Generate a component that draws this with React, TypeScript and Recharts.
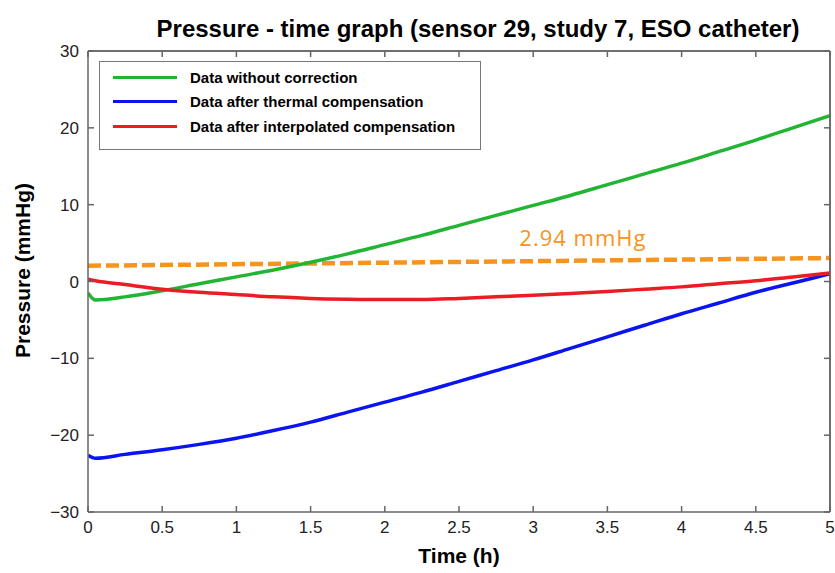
import { LineChart, Line, XAxis, YAxis, Legend, ReferenceDot, ReferenceLine } from 'recharts';

const TIME = [0, 0.05, 0.25, 0.5, 0.75, 1, 1.25, 1.5, 1.75, 2, 2.25, 2.5, 2.75, 3, 3.25, 3.5, 3.75, 4, 4.25, 4.5, 4.75, 5];
const RAW = [-1.5, -2.4, -2.0, -1.2, -0.3, 0.6, 1.5, 2.5, 3.6, 4.8, 6.0, 7.3, 8.6, 9.9, 11.2, 12.6, 14.0, 15.4, 16.9, 18.4, 20.0, 21.6];
const THERMAL = [-22.6, -23.0, -22.5, -21.9, -21.2, -20.4, -19.4, -18.3, -17.0, -15.7, -14.4, -13.0, -11.6, -10.2, -8.7, -7.2, -5.7, -4.2, -2.8, -1.4, -0.2, 1.0];
const INTERP = [0.3, 0.1, -0.4, -1.0, -1.4, -1.7, -2.0, -2.2, -2.3, -2.35, -2.35, -2.2, -2.0, -1.8, -1.55, -1.3, -1.0, -0.7, -0.3, 0.1, 0.6, 1.1];
// dashed reference: start / end of the run
const REF_TIME = [0, 5];
const REF_VALUE = [2.05, 3.05];

const SERIES_NAMES = ['Data without correction', 'Data after thermal compensation', 'Data after interpolated compensation'];
const X_TICKS = [0, 0.5, 1, 1.5, 2, 2.5, 3, 3.5, 4, 4.5, 5];
const Y_TICKS = [-30, -20, -10, 0, 10, 20, 30];

const data = TIME.map((t, i) => ({ t, raw: RAW[i], thermal: THERMAL[i], interp: INTERP[i] }));
const refData = REF_TIME.map((t, i) => ({ t, ref: REF_VALUE[i] }));

const tickFont = { fontFamily: 'Liberation Sans, Arial, sans-serif', fontSize: 17, fill: '#222' };
const labelFont = { fontFamily: 'Liberation Sans, Arial, sans-serif', fontSize: 21, fontWeight: 'bold', fill: '#000' };
const axisColor = '#666';
const noLabel = () => <g />;

function LegendBox({ payload }: any) {
  const items = SERIES_NAMES.map((n) => (payload || []).find((p: any) => p.value === n)).filter(Boolean);
  return (
    <div
      style={{
        border: '1.5px solid #777',
        background: '#fff',
        width: 382,
        height: 89,
        boxSizing: 'border-box',
        padding: '3px 0 0 13px',
        fontFamily: 'Liberation Sans, Arial, sans-serif',
        fontWeight: 'bold',
        fontSize: 15,
        textAlign: 'left',
      }}
    >
      {items.map((p: any) => (
        <div key={p.value} style={{ display: 'flex', alignItems: 'center', height: 24.5 }}>
          <span style={{ display: 'inline-block', width: 64, height: 3, background: p.color, marginRight: 13 }} />
          <span>{p.value}</span>
        </div>
      ))}
    </div>
  );
}

export default function App() {
  return (
    <div style={{ position: 'absolute', left: 0, top: 0, width: 835, height: 573, background: '#fff' }}>
      <div
        style={{
          position: 'absolute',
          left: 120,
          width: 716,
          top: 15,
          textAlign: 'center',
          fontFamily: 'Liberation Sans, Arial, sans-serif',
          fontWeight: 'bold',
          fontSize: 24,
          color: '#000',
        }}
      >
        Pressure - time graph (sensor 29, study 7, ESO catheter)
      </div>
      <LineChart width={835} height={573} data={data} margin={{ top: 50, right: 4, left: 28, bottom: 6 }}>
        {/* negative tickSize points the tick marks into the plot */}
        <XAxis
          xAxisId="b"
          dataKey="t"
          type="number"
          domain={[0, 5]}
          ticks={X_TICKS}
          height={55}
          tickSize={-6}
          tickMargin={15}
          tick={tickFont}
          stroke={axisColor}
          strokeWidth={1.5}
          allowDataOverflow
          label={{ value: 'Time (h)', position: 'insideBottom', offset: 4, style: labelFont }}
        />
        <XAxis
          xAxisId="t"
          orientation="top"
          dataKey="t"
          type="number"
          domain={[0, 5]}
          ticks={X_TICKS}
          height={1}
          tickSize={-6}
          tick={noLabel}
          stroke={axisColor}
          strokeWidth={1.5}
        />
        <YAxis
          yAxisId="l"
          type="number"
          domain={[-30, 30]}
          ticks={Y_TICKS}
          width={60}
          tickSize={-6}
          tickMargin={15}
          tick={tickFont}
          tickFormatter={(v: number) => (v < 0 ? `\u2212${-v}` : `${v}`)}
          stroke={axisColor}
          strokeWidth={1.5}
          allowDataOverflow
          label={{ value: 'Pressure (mmHg)', angle: -90, position: 'center', dx: -35, dy: -11, style: labelFont }}
        />
        <YAxis
          yAxisId="r"
          orientation="right"
          type="number"
          domain={[-30, 30]}
          ticks={Y_TICKS}
          width={1}
          tickSize={-6}
          tick={noLabel}
          stroke={axisColor}
          strokeWidth={1.5}
        />
        <Legend
          layout="horizontal"
          verticalAlign="middle"
          align="center"
          wrapperStyle={{ left: 99, top: 61, width: 382, height: 89 }}
          content={<LegendBox />}
        />
        {/* box edges on top and right */}
        <ReferenceLine xAxisId="b" yAxisId="l" x={5} stroke={axisColor} strokeWidth={1.5} />
        <ReferenceLine xAxisId="b" yAxisId="l" y={30} stroke={axisColor} strokeWidth={1.5} />
        {/* invisible series so the frame axes are registered */}
        <Line xAxisId="t" yAxisId="r" data={refData} dataKey="ref" name="frame" legendType="none" stroke="none" dot={false} activeDot={false} isAnimationActive={false} />
        <Line
          xAxisId="b"
          yAxisId="l"
          data={refData}
          dataKey="ref"
          name="ref"
          legendType="none"
          type="linear"
          stroke="#f7941d"
          strokeWidth={4.5}
          strokeDasharray="13 5"
          dot={false}
          isAnimationActive={false}
        />
        <Line
          xAxisId="b"
          yAxisId="l"
          dataKey="raw"
          name={SERIES_NAMES[0]}
          type="monotone"
          stroke="#22b533"
          strokeWidth={3.5}
          dot={false}
          isAnimationActive={false}
        />
        <Line
          xAxisId="b"
          yAxisId="l"
          dataKey="thermal"
          name={SERIES_NAMES[1]}
          type="monotone"
          stroke="#0a14f0"
          strokeWidth={3.5}
          dot={false}
          isAnimationActive={false}
        />
        <Line
          xAxisId="b"
          yAxisId="l"
          dataKey="interp"
          name={SERIES_NAMES[2]}
          type="monotone"
          stroke="#ec1c24"
          strokeWidth={3.5}
          dot={false}
          isAnimationActive={false}
        />
        <ReferenceDot
          xAxisId="b"
          yAxisId="l"
          x={2.9}
          y={5.6}
          r={1}
          fill="none"
          stroke="none"
          label={{
            value: '2.94 mmHg',
            position: 'right',
            offset: 0,
            fill: '#f7941d',
            fontSize: 22,
            fontFamily: 'Open Sans, sans-serif',
            letterSpacing: 1,
          }}
        />
      </LineChart>
    </div>
  );
}
